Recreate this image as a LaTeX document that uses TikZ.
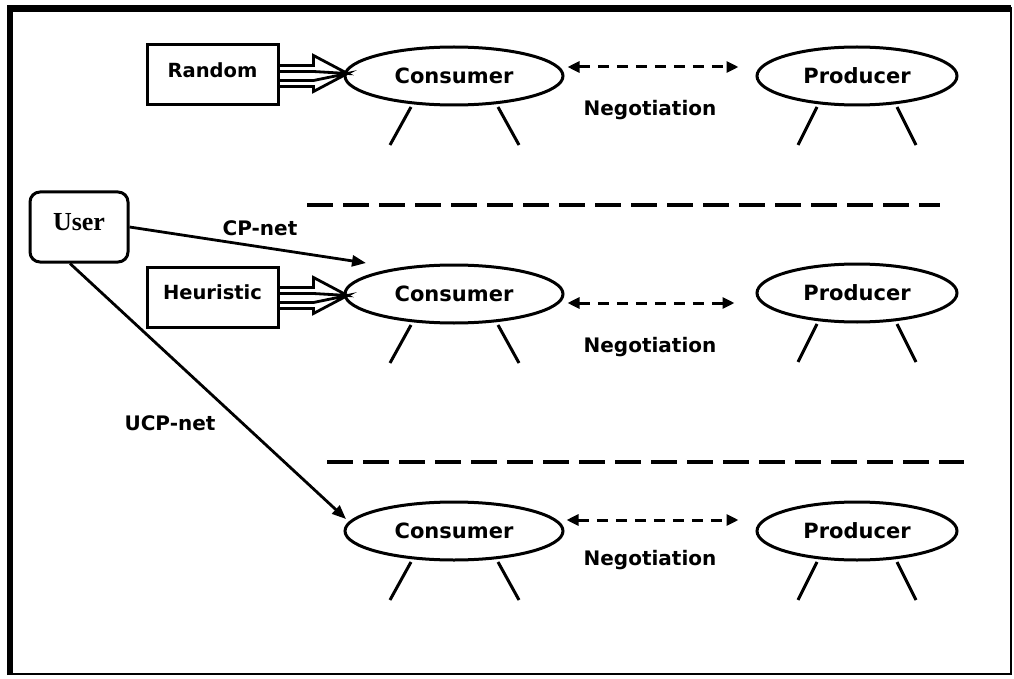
\documentclass[tikz,border=0pt]{standalone}
\usepackage{fontspec}
\setmainfont{DejaVu Sans}
\newfontfamily\userfont{Liberation Serif}
\usetikzlibrary{shapes.geometric,arrows.meta,calc}

\tikzset{
  agent/.style={ellipse, draw, line width=3pt, inner sep=0pt,
    minimum height=58pt, font=\bfseries\fontsize{21}{25}\selectfont},
  consumer/.style={agent, minimum width=218pt},
  producer/.style={agent, minimum width=200pt},
  strategy/.style={draw, line width=3pt, minimum width=131pt, minimum height=60pt,
    inner sep=0pt, text height=15pt, text depth=10pt,
    font=\bfseries\fontsize{19.5}{23}\selectfont},
  userbox/.style={draw, rounded corners=10pt, line width=3pt, minimum width=98pt,
    minimum height=70pt, inner sep=0pt, text height=17pt, text depth=10pt,
    font=\userfont\bfseries\fontsize{26}{29}\selectfont},
  lbl/.style={font=\bfseries\fontsize{20}{24}\selectfont},
  leg/.style={line width=3pt},
  nego/.style={line width=3pt, dash pattern=on 11pt off 8pt,
    {Triangle[length=12pt,width=11pt]}-{Triangle[length=12pt,width=11pt]}},
  feed/.style={line width=2.8pt, -{Triangle[length=14pt,width=11pt]}},
  hollow/.style={line width=2.8pt, line join=miter},
  divider/.style={line width=3.8pt, dash pattern=on 26pt off 10pt}
}

\begin{document}
\begin{tikzpicture}[x=1pt,y=-1pt]
\useasboundingbox (0,0) rectangle (1014,679);

% outer frame
\draw[line width=2.6pt] (10,8.5) rectangle (1011,674);
\draw[line width=6.5pt] (10,675) -- (10,8.5) -- (1011,8.5);

% agents
\node[consumer] (c1) at (454,76)  {Consumer};
\node[producer] (p1) at (857,76)  {Producer};
\node[consumer] (c2) at (454,294) {Consumer};
\node[producer] (p2) at (857,293) {Producer};
\node[consumer] (c3) at (454,531) {Consumer};
\node[producer] (p3) at (857,531) {Producer};

% legs under every agent
\foreach \a in {c1,c2,c3}{
  \draw[leg] ($(\a.center)+(-43,31)$) -- ++(-21,38);
  \draw[leg] ($(\a.center)+(44,31)$) -- ++(21,38);
}
\foreach \a in {p1,p2,p3}{
  \draw[leg] ($(\a.center)+(-40,31)$) -- ++(-19,38);
  \draw[leg] ($(\a.center)+(40,31)$) -- ++(19,38);
}

% negotiation links
\draw[nego] ([shift={(3,-9)}]c1.east) -- ([shift={(-17,-9)}]p1.west);
\node[lbl] (n1) at (650,110) {Negotiation};
\draw[nego] ([shift={(3,9)}]c2.east) -- ([shift={(-21,10)}]p2.west);
\node[lbl] (n2) at (650,347) {Negotiation};
\draw[nego] ([shift={(2,-11)}]c3.east) -- ([shift={(-17,-11)}]p3.west);
\node[lbl] (n3) at (650,560) {Negotiation};

% separators
\coordinate (s1a) at (307,205);
\coordinate (s1b) at (940,205);
\coordinate (s2a) at (327,462);
\coordinate (s2b) at (964,462);
\draw[divider] (s1a) -- (s1b);
\draw[divider] (s2a) -- (s2b);

% strategies feeding the consumers
\node[strategy] (rand) at (212.5,75)  {Random};
\node[strategy] (heur) at (212.5,297) {Heuristic};
\foreach \b in {rand,heur}{
  \draw[hollow] ([shift={(0,22)}]\b.north east) -- ++(34,0) -- ++(0,-10)
    -- ++(34,18) -- ++(-34,-2) -- ++(-34,0);
  \draw[hollow] ([shift={(0,37)}]\b.north east) -- ++(34,0) -- ++(34,-7)
    -- ++(-34,18) -- ++(0,-5) -- ++(-34,0);
}

% user preferences
\node[userbox] (user) at (79,227) {User};
\coordinate (cpend) at (366,263);
\coordinate (ucpend) at (346,519);
\draw[feed] (user.east) -- (cpend);
\node[lbl] (cp) at (260,228) {CP-net};
\draw[feed] ([xshift=-9]user.south) -- (ucpend);
\node[lbl] (ucp) at (170,423) {UCP-net};
\end{tikzpicture}
\end{document}
